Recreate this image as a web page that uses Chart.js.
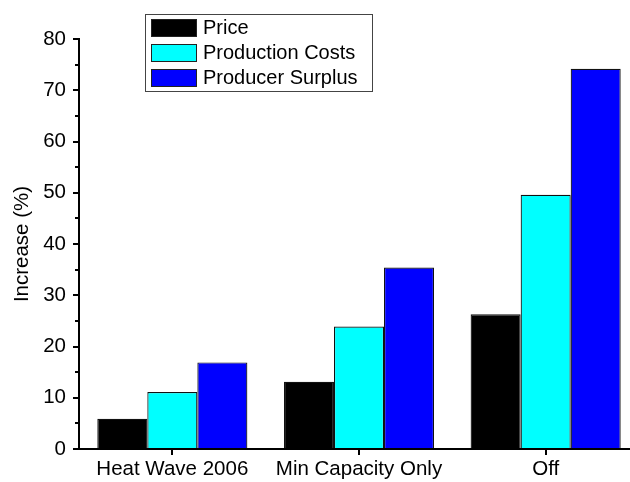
<!DOCTYPE html>
<html>
<head>
<meta charset="utf-8">
<script src="https://cdn.jsdelivr.net/npm/chart.js@4"></script>
<style>
  html, body { margin: 0; padding: 0; background: #fff; overflow: hidden; }
  #wrap { width: 639px; height: 482px; }
</style>
</head>
<body>
<div id="wrap"><canvas id="chart"></canvas></div>
<script>
const categories = ["Heat Wave 2006", "Min Capacity Only", "Off"];
const seriesNames = ["Price", "Production Costs", "Producer Surplus"];
const price = [5.9, 13.1, 26.3];
const productionCosts = [11.1, 23.9, 49.6];
const producerSurplus = [16.9, 35.4, 74.2];
const yTicks = [0, 10, 20, 30, 40, 50, 60, 70, 80];
const yMinorTicks = [5, 15, 25, 35, 45, 55, 65, 75];

const colors = ["#000000", "#00ffff", "#0000ff"];
const font = "'Liberation Sans', Arial, sans-serif";

// minor ticks on the y axis
const minorTicks = {
  id: 'minorTicks',
  afterDraw(chart){
    const y = chart.scales.y;
    const ctx = chart.ctx;
    ctx.save();
    ctx.strokeStyle = '#000';
    ctx.lineWidth = 2;
    yMinorTicks.forEach(v=>{
      const py = Math.round(y.getPixelForValue(v));
      ctx.beginPath();
      ctx.moveTo(y.right - 4, py);
      ctx.lineTo(y.right, py);
      ctx.stroke();
    });
    ctx.restore();
  }
};

// boxed legend drawn inside the plot
const boxLegend = {
  id: 'boxLegend',
  afterDraw(chart){
    const ctx = chart.ctx;
    ctx.save();
    ctx.strokeStyle = '#444';
    ctx.lineWidth = 1;
    ctx.fillStyle = '#fff';
    ctx.fillRect(145.5, 14.5, 227, 77);
    ctx.strokeRect(145.5, 14.5, 227, 77);
    ctx.font = "20px " + font;
    ctx.textBaseline = 'middle';
    chart.data.datasets.forEach((ds, i)=>{
      const top = 19.5 + i * 25;
      ctx.fillStyle = ds.backgroundColor;
      ctx.fillRect(151.5, top, 45, 17);
      ctx.strokeStyle = '#222';
      ctx.strokeRect(151.5, top, 45, 17);
      ctx.fillStyle = '#000';
      ctx.fillText(ds.label, 203, top + 9);
    });
    ctx.restore();
  }
};

const ctx = document.getElementById('chart').getContext('2d');
new Chart(ctx, {
  type: 'bar',
  data: {
    labels: categories,
    datasets: [price, productionCosts, producerSurplus].map((d, i)=>({
      label: seriesNames[i],
      data: d,
      backgroundColor: colors[i],
      borderColor: '#111',
      borderWidth: 1.2,
      categoryPercentage: 0.804,
      barPercentage: 1.0
    }))
  },
  options: {
    responsive: true,
    maintainAspectRatio: false,
    animation: false,
    layout: { padding: { top: 39, right: 0, left: 0, bottom: 0 } },
    plugins: { legend: { display: false }, tooltip: { enabled: false } },
    scales: {
      x: {
        grid: { display: true, drawOnChartArea: false, drawTicks: true, tickLength: 6, offset: false, color: '#000', lineWidth: 2 },
        border: { display: true, color: '#000', width: 2 },
        ticks: { color: '#000', font: { family: font, size: 20.5 }, padding: 2, maxRotation: 0 },
        afterFit(scale){ scale.height = 33; }
      },
      y: {
        min: 0,
        max: 80,
        afterBuildTicks(scale){ scale.ticks = yTicks.map(v=>({ value: v })); },
        grid: { display: true, drawOnChartArea: false, drawTicks: true, tickLength: 6, color: '#000', lineWidth: 2 },
        border: { display: true, color: '#000', width: 2 },
        ticks: { color: '#000', font: { family: font, size: 20.5 }, padding: 7 },
        title: { display: true, text: 'Increase (%)', color: '#000', font: { family: font, size: 20.5 }, padding: { top: 10, bottom: 0 } },
        afterFit(scale){ scale.width = 79; }
      }
    }
  },
  plugins: [minorTicks, boxLegend]
});
</script>
</body>
</html>
